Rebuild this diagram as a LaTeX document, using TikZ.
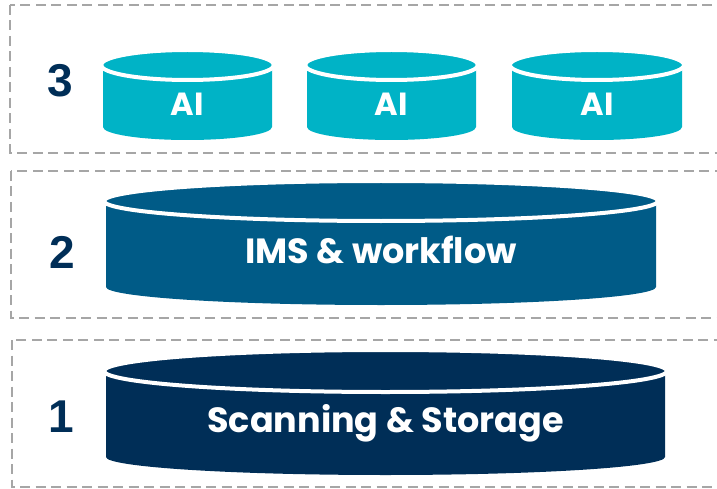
\documentclass[tikz,border=0pt]{standalone}
\usepackage{fontspec}
\setmainfont{Poppins}
\newfontfamily\numfont{Liberation Sans}
\definecolor{aiteal}{HTML}{00B3C6}
\definecolor{imsblue}{HTML}{005B87}
\definecolor{scannavy}{HTML}{002E57}
\definecolor{boxgray}{HTML}{A6A6A6}
% left, right, top y, bottom y, top ry, bottom ry, colour
\newcommand{\disk}[7]{%
  \fill [#7] (#1,#3) -- (#1,#4) arc (180:0:{(#2-#1)/2} and #6) -- (#2,#3) -- cycle;
  \filldraw [fill=#7,draw=white,line width=4pt] ({(#1+#2)/2},#3) ellipse ({(#2-#1)/2+2} and #5);
}
\begin{document}
\begin{tikzpicture}[x=1pt,y=-1pt]
\tikzstyle{every node}+=[inner sep=0pt,anchor=base]
\tikzstyle{layerbox}=[boxgray,line width=2.3pt,dash pattern=on 10pt off 5.5pt]
\tikzstyle{layernum}=[text=scannavy,font=\numfont\bfseries\fontsize{46}{50}\selectfont]
\tikzstyle{disklabel}=[text=white,font=\bfseries\fontsize{35}{38}\selectfont]
\tikzstyle{ailabel}=[text=white,font=\bfseries\fontsize{32}{36}\selectfont]
\useasboundingbox (0,0) rectangle (717,489);
\clip (0,0) rectangle (717,489);
\draw [layerbox] (10,5) rectangle (740,153);
\draw [layerbox] (11,171) rectangle (740,318);
\draw [layerbox] (12,340) rectangle (740,487);
\disk{103}{272}{65}{127}{15}{13}{aiteal}
\disk{307}{476}{65}{127}{15}{13}{aiteal}
\disk{512}{682}{65}{127}{15}{13}{aiteal}
\disk{106}{656}{201}{287}{20}{18}{imsblue}
\disk{106}{665}{371}{457}{21}{18}{scannavy}
\node [layernum] (n3) at (60,97) {3};
\node [layernum] (n2) at (62,268) {2};
\node [layernum] (n1) at (61,432) {1};
\node [ailabel] (ai1) at (187.5,116) {AI};
\node [ailabel] (ai2) at (391.5,116) {AI};
\node [ailabel] (ai3) at (597,116) {AI};
\node [disklabel] (ims) at (381,263) {IMS \& workflow};
\node [disklabel] (scan) at (385.5,432) {Scanning \& Storage};
\end{tikzpicture}
\end{document}
